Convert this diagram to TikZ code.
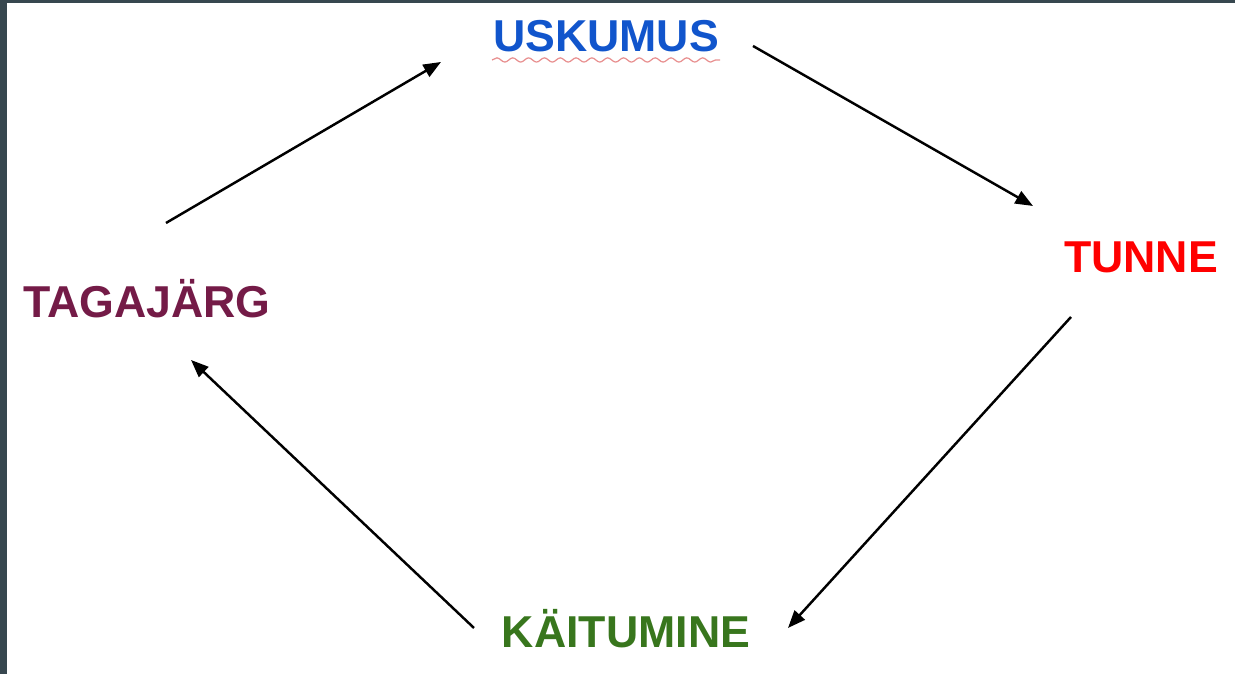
\documentclass[tikz,border=0pt]{standalone}
\usepackage{fontspec}
\setmainfont{Liberation Sans}
\usetikzlibrary{arrows.meta}
\usetikzlibrary{decorations.pathmorphing}
\definecolor{uskblue}{HTML}{1155CC}
\definecolor{tunred}{HTML}{FF0000}
\definecolor{tagmag}{HTML}{741B47}
\definecolor{kaigreen}{HTML}{38761D}
\definecolor{framegray}{HTML}{37474F}
\definecolor{spellred}{HTML}{E89090}
\tikzset{
    myword/.style = {anchor=base, inner sep=0pt, font=\fontsize{12.7}{15}\selectfont\bfseries},
    mywordb/.style = {myword, text=uskblue},
    mywordr/.style = {myword, text=tunred},
    mywordm/.style = {myword, text=tagmag},
    mywordg/.style = {myword, text=kaigreen},
    edgen/.style = {-{Triangle[length=5pt,width=3.9pt]}, line width=0.7pt, black},
    squiggle/.style = {spellred, line width=0.35pt, decorate, decoration={snake, amplitude=0.6pt, segment length=4.5pt}}
}

\begin{document}
\begin{tikzpicture}[x=0.01cm,y=0.01cm]
  \useasboundingbox (0,0) rectangle (1235,674);
  \fill[framegray] (0,0) rectangle (7,674);
  \fill[framegray] (0,671) rectangle (1235,674);
  \node[mywordb] (usk) at (606,622) {USKUMUS};
  \node[mywordr] (tun) at (1141,401) {TUNNE};
  \node[mywordg] (kai) at (626,26) {KÄITUMINE};
  \node[mywordm] (tag) at (147,356) {TAGAJÄRG};
  % spell check line
  \draw[squiggle] ([shift={(-114,-8)}]usk.base) -- ([shift={(114,-8)}]usk.base);
  % cycle
  \draw[edgen] ([shift={(19,95)}]tag.base) -- ([shift={(-165,-10)}]usk.base);
  \draw[edgen] ([shift={(147,6)}]usk.base) -- ([shift={(-108,67)}]tun.base);
  \draw[edgen] ([shift={(-70,-44)}]tun.base) -- ([shift={(162,20)}]kai.base);
  \draw[edgen] ([shift={(-152,20)}]kai.base) -- ([shift={(44,-42)}]tag.base);
\end{tikzpicture}
\end{document}
